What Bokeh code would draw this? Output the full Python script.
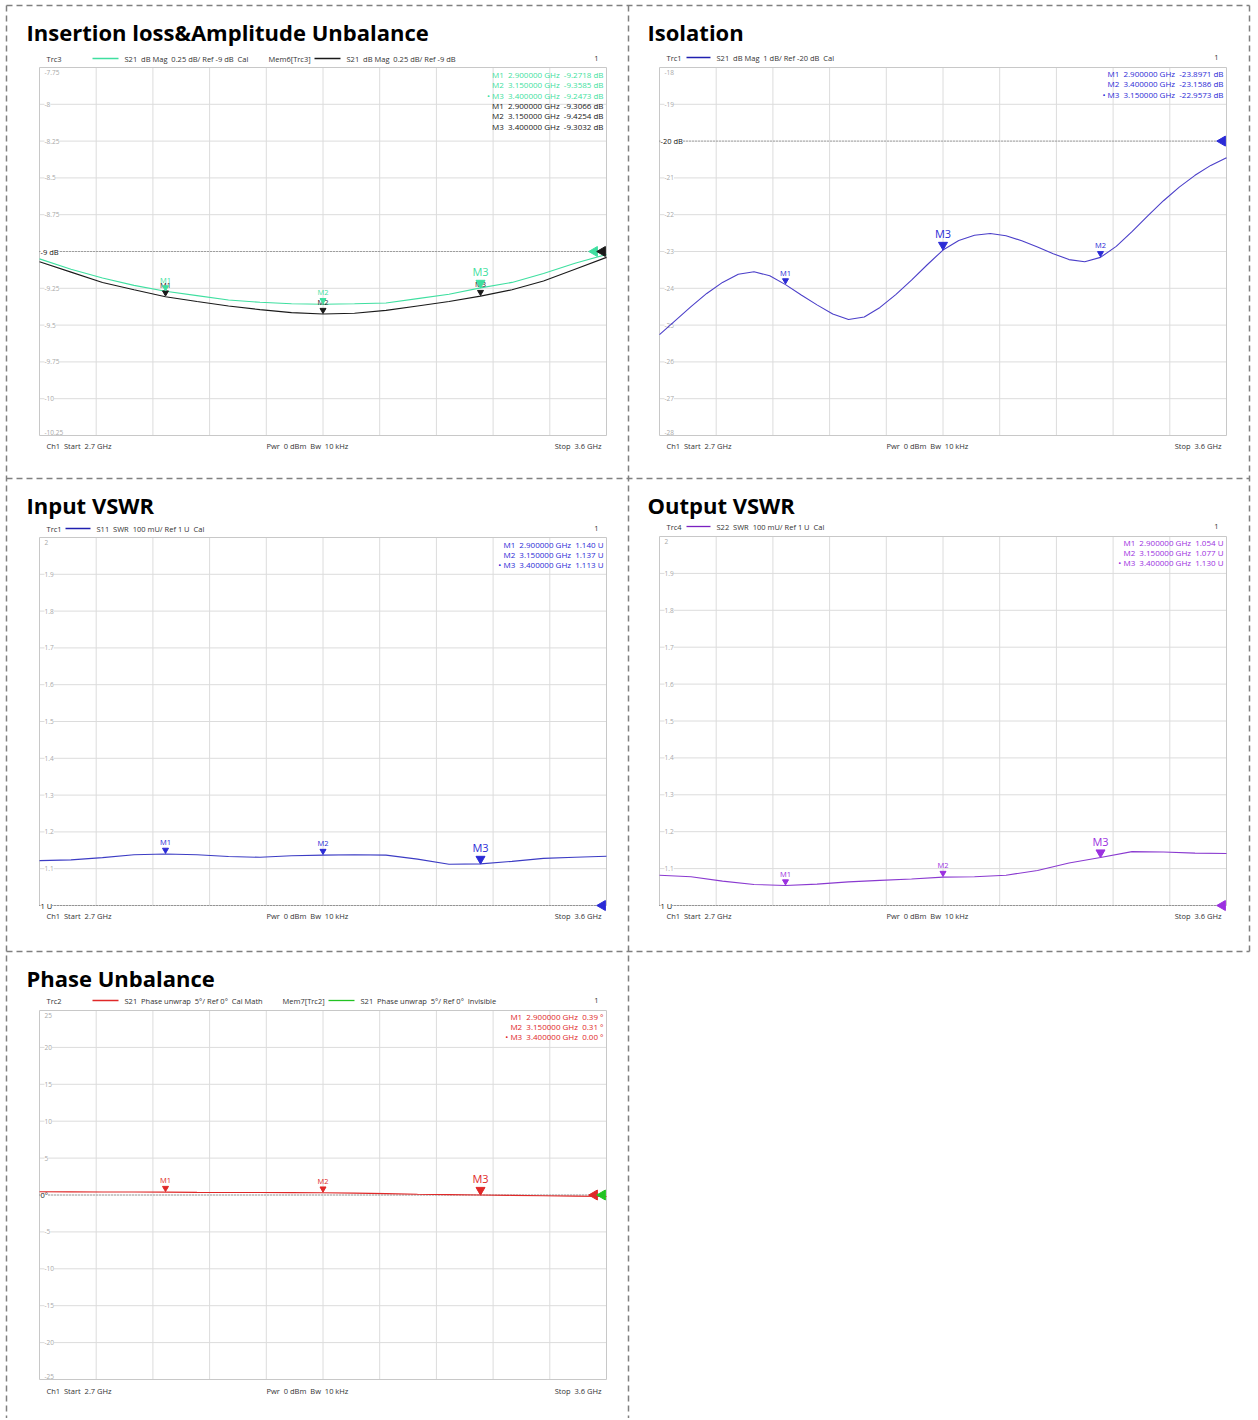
import math
from bokeh.plotting import figure
from bokeh.models import Range1d
from bokeh.core.properties import value
from bokeh.embed import file_html
from bokeh.resources import INLINE

# ---------------- data ----------------
F_START, F_STOP = 2.7, 3.6
FREQ = [2.70, 2.75, 2.80, 2.85, 2.90, 2.95, 3.00, 3.05, 3.10, 3.15,
        3.20, 3.25, 3.30, 3.35, 3.40, 3.45, 3.50, 3.55, 3.60]

IL_TRC3 = [-9.05, -9.12, -9.18, -9.23, -9.27, -9.30, -9.33, -9.345, -9.355, -9.358,
           -9.355, -9.35, -9.32, -9.29, -9.247, -9.21, -9.15, -9.08, -9.02]
IL_MEM6 = [-9.07, -9.14, -9.21, -9.26, -9.307, -9.34, -9.37, -9.395, -9.415, -9.425,
           -9.42, -9.40, -9.37, -9.34, -9.303, -9.26, -9.20, -9.12, -9.04]

ISO_FREQ = [2.700, 2.725, 2.750, 2.775, 2.800, 2.825, 2.850, 2.875, 2.900, 2.925,
            2.950, 2.975, 3.000, 3.025, 3.050, 3.075, 3.100, 3.125, 3.150, 3.175,
            3.200, 3.225, 3.250, 3.275, 3.300, 3.325, 3.350, 3.375, 3.400, 3.425,
            3.450, 3.475, 3.500, 3.525, 3.550, 3.575, 3.600]
ISO_TRC1 = [-25.26, -24.88, -24.50, -24.14, -23.84, -23.62, -23.55, -23.66, -23.90, -24.18,
            -24.45, -24.70, -24.85, -24.78, -24.52, -24.17, -23.78, -23.36, -22.96, -22.70,
            -22.56, -22.51, -22.57, -22.71, -22.88, -23.06, -23.22, -23.28, -23.16, -22.86,
            -22.46, -22.03, -21.62, -21.25, -20.93, -20.66, -20.45]

VSWR_IN = [1.122, 1.124, 1.130, 1.138, 1.140, 1.138, 1.133, 1.131, 1.135, 1.137,
           1.138, 1.137, 1.126, 1.112, 1.113, 1.120, 1.128, 1.131, 1.134]
VSWR_OUT = [1.082, 1.078, 1.066, 1.057, 1.054, 1.058, 1.064, 1.068, 1.072, 1.077,
            1.078, 1.082, 1.095, 1.115, 1.130, 1.146, 1.145, 1.142, 1.141]
PHASE = [0.45, 0.42, 0.40, 0.40, 0.39, 0.35, 0.33, 0.34, 0.32, 0.31,
         0.25, 0.18, 0.10, 0.05, 0.00, -0.05, -0.10, -0.15, -0.20]

MK_NAMES = ["M1", "M2", "M3"]
MK_FREQ = [2.9, 3.15, 3.4]
IL_MK_TRC3 = [-9.2718, -9.3585, -9.2473]
IL_MK_MEM6 = [-9.3066, -9.4254, -9.3032]
ISO_MK_FREQ = [2.9, 3.4, 3.15]
ISO_MK = [-23.8971, -23.1586, -22.9573]
VIN_MK = [1.140, 1.137, 1.113]
VOUT_MK = [1.054, 1.077, 1.130]
PH_MK = [0.39, 0.31, 0.00]

IL_TICKS = [-7.75, -8, -8.25, -8.5, -8.75, -9, -9.25, -9.5, -9.75, -10, -10.25]
IL_TICK_LABELS = ["-7.75", "-8", "-8.25", "-8.5", "-8.75", "-9 dB", "-9.25", "-9.5", "-9.75", "-10", "-10.25"]
ISO_TICKS = [-18, -19, -20, -21, -22, -23, -24, -25, -26, -27, -28]
ISO_TICK_LABELS = ["-18", "-19", "-20 dB", "-21", "-22", "-23", "-24", "-25", "-26", "-27", "-28"]
VSWR_TICKS = [2, 1.9, 1.8, 1.7, 1.6, 1.5, 1.4, 1.3, 1.2, 1.1, 1.0]
VSWR_TICK_LABELS = ["2", "1.9", "1.8", "1.7", "1.6", "1.5", "1.4", "1.3", "1.2", "1.1", "1 U"]
PH_TICKS = [25, 20, 15, 10, 5, 0, -5, -10, -15, -20, -25]
PH_TICK_LABELS = ["25", "20", "15", "10", "5", "0°", "-5", "-10", "-15", "-20", "-25"]

# ---------------- styles ----------------
FONT = "Open Sans"
GRID = "#dcdcdc"
FRAME = "#c8c8c8"
TICKC = "#a8a8a8"
MINT = "#3fdfa0"
BLACK = "#1a1a1a"
ISO_LINE = "#4b3fc9"
BLUE_TXT = "#2b2bd6"
VIN_LINE = "#3c3cc4"
VOUT_LINE = "#8a3ad0"
PURPLE_TXT = "#9b30e0"
RED = "#e02828"
GREEN = "#22c322"
SP = " \u00a0"  # visible double space

W, H = 1256, 1418
p = figure(width=W, height=H, x_range=Range1d(0, W), y_range=Range1d(H, 0),
           output_backend="svg", toolbar_location=None, min_border=0,
           x_axis_location=None, y_axis_location=None, outline_line_color=None,
           background_fill_color="white", border_fill_color="white")
p.grid.visible = False

xr, yr = {}, {}


def sp(s):
    return s.replace("  ", SP)


def ptext(x, y, s, size="7.5px", color="#333333", align="left", baseline="middle", bold=False):
    p.text([x], [y], text=[sp(s)], text_font=value(FONT), text_font_size=size,
           text_color=color, text_align=align, text_baseline=baseline,
           text_font_style="bold" if bold else "normal")


# ---------------- dashed cell borders ----------------
BD = dict(line_color="#808080", line_width=1.5, line_dash="6 4")
p.line([6, 1249], [5, 5], **BD)
p.line([6, 6], [5, 1418], **BD)
p.line([1249, 1249], [5, 951], **BD)
p.line([628, 628], [5, 1418], **BD)
p.line([6, 1249], [478, 478], **BD)
p.line([6, 1249], [951, 951], **BD)


def panel(key, x0, x1, y0, y1, ticks, tick_labels, ref_idx):
    kx = (F_STOP - F_START) / (x1 - x0)
    sx = F_START - x0 * kx
    ky = (ticks[0] - ticks[-1]) / (y1 - y0)
    ey = ticks[0] + y0 * ky
    xr[key] = Range1d(sx, sx + W * kx)
    yr[key] = Range1d(ey - H * ky, ey)
    kw = dict(x_range_name=key, y_range_name=key)
    gx = [F_START + i * (F_STOP - F_START) / 10 for i in range(1, 10)]
    p.segment(x0=gx, y0=[ticks[-1]] * len(gx), x1=gx, y1=[ticks[0]] * len(gx),
              line_color=GRID, line_width=1, **kw)
    inner = ticks[1:-1]
    p.segment(x0=[F_START] * len(inner), y0=inner, x1=[F_STOP] * len(inner), y1=inner,
              line_color=GRID, line_width=1, **kw)
    p.quad(left=[F_START], right=[F_STOP], bottom=[ticks[-1]], top=[ticks[0]],
           fill_color=None, line_color=FRAME, line_width=1, **kw)
    rv = ticks[ref_idx]
    p.segment(x0=[F_START], y0=[rv], x1=[F_STOP], y1=[rv], line_color="#606060",
              line_width=1, line_dash="1 2", **kw)
    common = dict(text_font=value(FONT), text_font_size="6.5px", text_color=TICKC,
                  text_align="left", background_fill_color="white", **kw)
    mids = [i for i in range(1, len(ticks) - 1) if i != ref_idx]
    p.text(x=[F_START] * len(mids), y=[ticks[i] for i in mids], text=[tick_labels[i] for i in mids],
           x_offset=5, text_baseline="middle", **common)
    if ref_idx != 0:
        p.text(x=[F_START], y=[ticks[0]], text=[tick_labels[0]], x_offset=5, y_offset=2,
               text_baseline="top", **common)
    if ref_idx != len(ticks) - 1:
        p.text(x=[F_START], y=[ticks[-1]], text=[tick_labels[-1]], x_offset=5, y_offset=-1,
               text_baseline="bottom", **common)
    p.text(x=[F_START], y=[rv], text=[tick_labels[ref_idx]], x_offset=1,
           text_font=value(FONT), text_font_size="7.5px", text_color="#111111",
           text_align="left", text_baseline="middle", background_fill_color="white", **kw)
    return kw, kx, ky


def markers(kw, ky, freqs, vals, color, active=2, big=True):
    sm_f = [f for i, f in enumerate(freqs) if i != active]
    sm_v = [v for i, v in enumerate(vals) if i != active]
    sm_n = [MK_NAMES[i] for i in range(3) if i != active]
    p.scatter(sm_f, [v + 4 * ky for v in sm_v], marker="inverted_triangle", size=6,
              color=color, **kw)
    p.text(sm_f, sm_v, text=sm_n, y_offset=-7, text_align="center", text_baseline="bottom",
           text_font=value(FONT), text_font_size="7.5px", text_color=color, **kw)
    fa, va = [freqs[active]], [vals[active]]
    if big:
        p.scatter(fa, [va[0] + 5 * ky], marker="inverted_triangle", size=9, color=color, **kw)
        p.text(fa, va, text=[MK_NAMES[active]], y_offset=-9, text_align="center",
               text_baseline="bottom", text_font=value(FONT), text_font_size="11px",
               text_color=color, **kw)
    else:
        p.scatter(fa, [va[0] + 4 * ky], marker="inverted_triangle", size=6, color=color, **kw)
        p.text(fa, va, text=[MK_NAMES[active]], y_offset=-7, text_align="center",
               text_baseline="bottom", text_font=value(FONT), text_font_size="7.5px",
               text_color=color, **kw)


def ref_tri(kw, kx, yv, dpx, color):
    p.scatter([F_STOP - dpx * kx], [yv], marker="triangle", angle=math.pi / 2, size=10,
              color=color, **kw)


def table(xr_px, y_start, freqs, vals, unit, fmt, color, active=2, dy=10.3, bullet=True):
    for i in range(3):
        pre = "• " if (bullet and i == active) else ""
        s = f"{pre}{MK_NAMES[i]}  {freqs[i]:.6f} GHz  {vals[i]:{fmt}} {unit}"
        ptext(xr_px, y_start + i * dy, s, size="8px", color=color, align="right")


def footer(x0, x1, y):
    ptext(x0 + 7, y, "Ch1  Start  2.7 GHz", color="#333333")
    ptext(x0 + 227, y, "Pwr  0 dBm  Bw  10 kHz", color="#333333")
    ptext(x1 - 5, y, "Stop  3.6 GHz", color="#333333", align="right")


def legend_line(xa, xb, y, color):
    p.segment(x0=[xa], y0=[y], x1=[xb], y1=[y], line_color=color, line_width=1.3)


# ---------------- Panel 1: Insertion loss ----------------
ptext(26, 31, "Insertion loss&Amplitude Unbalance", size="22px", color="#000000", bold=True)
ptext(46, 58, "Trc3")
legend_line(92, 118, 58, MINT)
ptext(124, 58, "S21  dB Mag  0.25 dB/ Ref -9 dB  Cal")
ptext(268, 58, "Mem6[Trc3]")
legend_line(314, 340, 58, BLACK)
ptext(346, 58, "S21  dB Mag  0.25 dB/ Ref -9 dB")
ptext(598, 58, "1", align="right")
kw1, kx1, ky1 = panel("p1", 39, 606, 67, 435, IL_TICKS, IL_TICK_LABELS, 5)
p.line(FREQ, IL_MEM6, line_color=BLACK, line_width=1.1, **kw1)
p.line(FREQ, IL_TRC3, line_color=MINT, line_width=1.1, **kw1)
markers(kw1, ky1, MK_FREQ, IL_MK_MEM6, BLACK, big=False)
markers(kw1, ky1, MK_FREQ, IL_MK_TRC3, MINT)
ref_tri(kw1, kx1, IL_TICKS[5], 12, MINT)
ref_tri(kw1, kx1, IL_TICKS[5], 4, BLACK)
table(603, 74, MK_FREQ, IL_MK_TRC3, "dB", ".4f", MINT)
table(603, 104.9, MK_FREQ, IL_MK_MEM6, "dB", ".4f", BLACK, bullet=False)
footer(39, 606, 445)

# ---------------- Panel 2: Isolation ----------------
ptext(647, 31, "Isolation", size="22px", color="#000000", bold=True)
ptext(666, 57, "Trc1")
legend_line(686, 710, 57, "#2020b0")
ptext(716, 57, "S21  dB Mag  1 dB/ Ref -20 dB  Cal")
ptext(1218, 57, "1", align="right")
kw2, kx2, ky2 = panel("p2", 659, 1226, 67, 435, ISO_TICKS, ISO_TICK_LABELS, 2)
p.line(ISO_FREQ, ISO_TRC1, line_color=ISO_LINE, line_width=1.1, **kw2)
markers(kw2, ky2, ISO_MK_FREQ, ISO_MK, BLUE_TXT)
ref_tri(kw2, kx2, ISO_TICKS[2], 4, BLUE_TXT)
table(1223, 73, ISO_MK_FREQ, ISO_MK, "dB", ".4f", BLUE_TXT)
footer(659, 1226, 445)

# ---------------- Panel 3: Input VSWR ----------------
ptext(26, 504, "Input VSWR", size="22px", color="#000000", bold=True)
ptext(46, 528, "Trc1")
legend_line(65, 90, 528, "#2020b0")
ptext(96, 528, "S11  SWR  100 mU/ Ref 1 U  Cal")
ptext(598, 528, "1", align="right")
kw3, kx3, ky3 = panel("p3", 39, 606, 537, 905, VSWR_TICKS, VSWR_TICK_LABELS, 10)
p.line(FREQ, VSWR_IN, line_color=VIN_LINE, line_width=1.1, **kw3)
markers(kw3, ky3, MK_FREQ, VIN_MK, BLUE_TXT)
ref_tri(kw3, kx3, VSWR_TICKS[10], 4, BLUE_TXT)
table(603, 543.5, MK_FREQ, VIN_MK, "U", ".3f", BLUE_TXT, dy=10)
footer(39, 606, 915)

# ---------------- Panel 4: Output VSWR ----------------
ptext(647, 504, "Output VSWR", size="22px", color="#000000", bold=True)
ptext(666, 526, "Trc4")
legend_line(686, 710, 526, "#7a20c0")
ptext(716, 526, "S22  SWR  100 mU/ Ref 1 U  Cal")
ptext(1218, 526, "1", align="right")
kw4, kx4, ky4 = panel("p4", 659, 1226, 536, 905, VSWR_TICKS, VSWR_TICK_LABELS, 10)
p.line(FREQ, VSWR_OUT, line_color=VOUT_LINE, line_width=1.1, **kw4)
markers(kw4, ky4, MK_FREQ, VOUT_MK, PURPLE_TXT)
ref_tri(kw4, kx4, VSWR_TICKS[10], 4, PURPLE_TXT)
table(1223, 542, MK_FREQ, VOUT_MK, "U", ".3f", PURPLE_TXT, dy=10)
footer(659, 1226, 915)

# ---------------- Panel 5: Phase Unbalance ----------------
ptext(26, 977, "Phase Unbalance", size="22px", color="#000000", bold=True)
ptext(46, 1000, "Trc2")
legend_line(92, 118, 1000, RED)
ptext(124, 1000, "S21  Phase unwrap  5°/ Ref 0°  Cal Math")
ptext(282, 1000, "Mem7[Trc2]")
legend_line(328, 354, 1000, GREEN)
ptext(360, 1000, "S21  Phase unwrap  5°/ Ref 0°  Invisible")
ptext(598, 1000, "1", align="right")
kw5, kx5, ky5 = panel("p5", 39, 606, 1010, 1379, PH_TICKS, PH_TICK_LABELS, 5)
p.line(FREQ, PHASE, line_color=RED, line_width=1.1, **kw5)
markers(kw5, ky5, MK_FREQ, PH_MK, RED)
ref_tri(kw5, kx5, PH_TICKS[5], 12, RED)
ref_tri(kw5, kx5, PH_TICKS[5], 4, GREEN)
table(603, 1016, MK_FREQ, PH_MK, "°", ".2f", RED, dy=10)
footer(39, 606, 1390)

p.extra_x_ranges = xr
p.extra_y_ranges = yr

open("out.html", "w").write(file_html(p, INLINE))
